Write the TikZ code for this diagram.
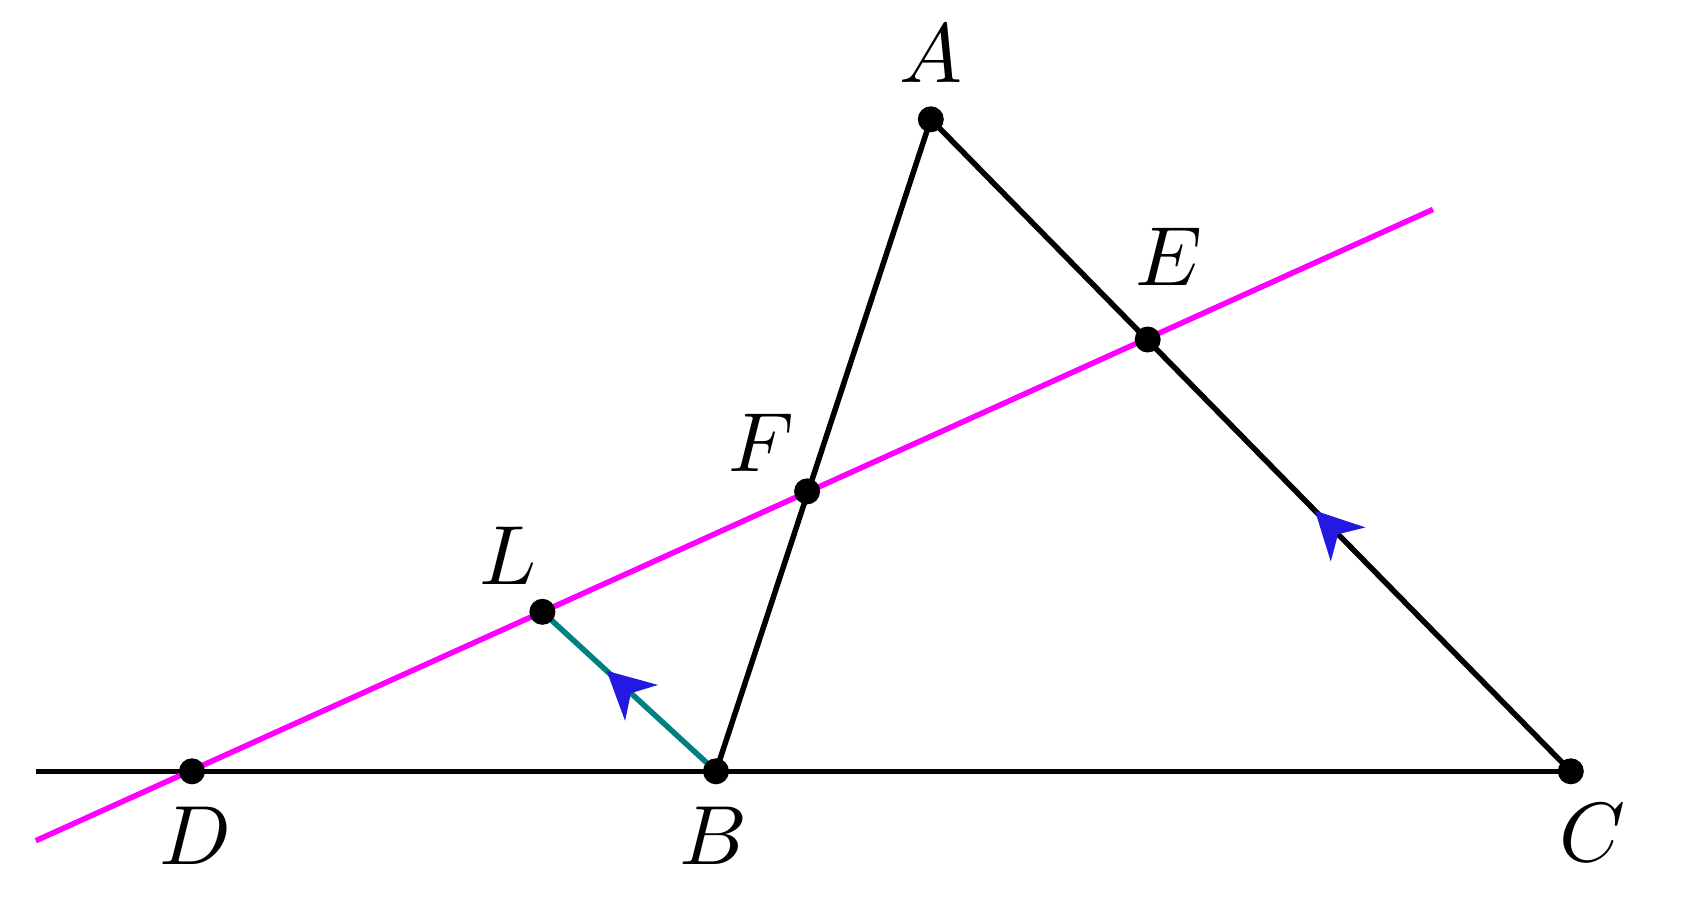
\documentclass[tikz,border=0pt]{standalone}
\usetikzlibrary{arrows.meta,decorations.markings}
\definecolor{arrblue}{RGB}{35,25,225}
\definecolor{mag}{RGB}{255,0,255}
\definecolor{tealc}{RGB}{0,128,128}
\begin{document}
\begin{tikzpicture}[x=1pt,y=-1pt,
  seg/.style={line width=5.5pt},
  dot/.style={circle,fill=black,inner sep=0pt,minimum size=26pt},
  lbl/.style={scale=8.4,inner sep=0pt},
  midarrow/.style={postaction={decorate},decoration={markings,
    mark=at position #1 with {\arrow{Stealth[length=47pt,width=48pt,inset=14pt,color=arrblue]}}}}]
\useasboundingbox (0,0) rectangle (1701,924);
\fill[white] (0,0) rectangle (1701,924);
\coordinate (A) at (930.8,119.3);
\coordinate (E) at (1147.7,339.5);
\coordinate (F) at (807.1,491.4);
\coordinate (L) at (542.4,611.8);
\coordinate (D) at (192.0,771.3);
\coordinate (B) at (716.0,771.3);
\coordinate (C) at (1570.8,771.3);
\coordinate (H0) at (35.8,771.3);
\coordinate (M0) at (35.8,840.7);
\coordinate (M1) at (1433,209.4);
% lines
\draw[seg] (H0) -- (C);
\draw[seg] (B) -- (A);
\draw[seg,midarrow=0.4] (C) -- (A);
\draw[seg,tealc,midarrow=0.63] (B) -- (L);
\draw[seg,mag] (M0) -- (M1);
% dots
\foreach \p in {A,E,F,L,D,B,C} \node[dot] at (\p) {};
% labels
\node[lbl] (lA) at (930.8,54) {$A$};
\node[lbl] (lE) at (1169,257) {$E$};
\node[lbl] (lF) at (761.5,442.6) {$F$};
\node[lbl] (lL) at (507.7,555.4) {$L$};
\node[lbl] (lD) at (195.3,835.3) {$D$};
\node[lbl] (lB) at (713.8,835.3) {$B$};
\node[lbl] (lC) at (1592.5,833) {$C$};
\end{tikzpicture}
\end{document}
